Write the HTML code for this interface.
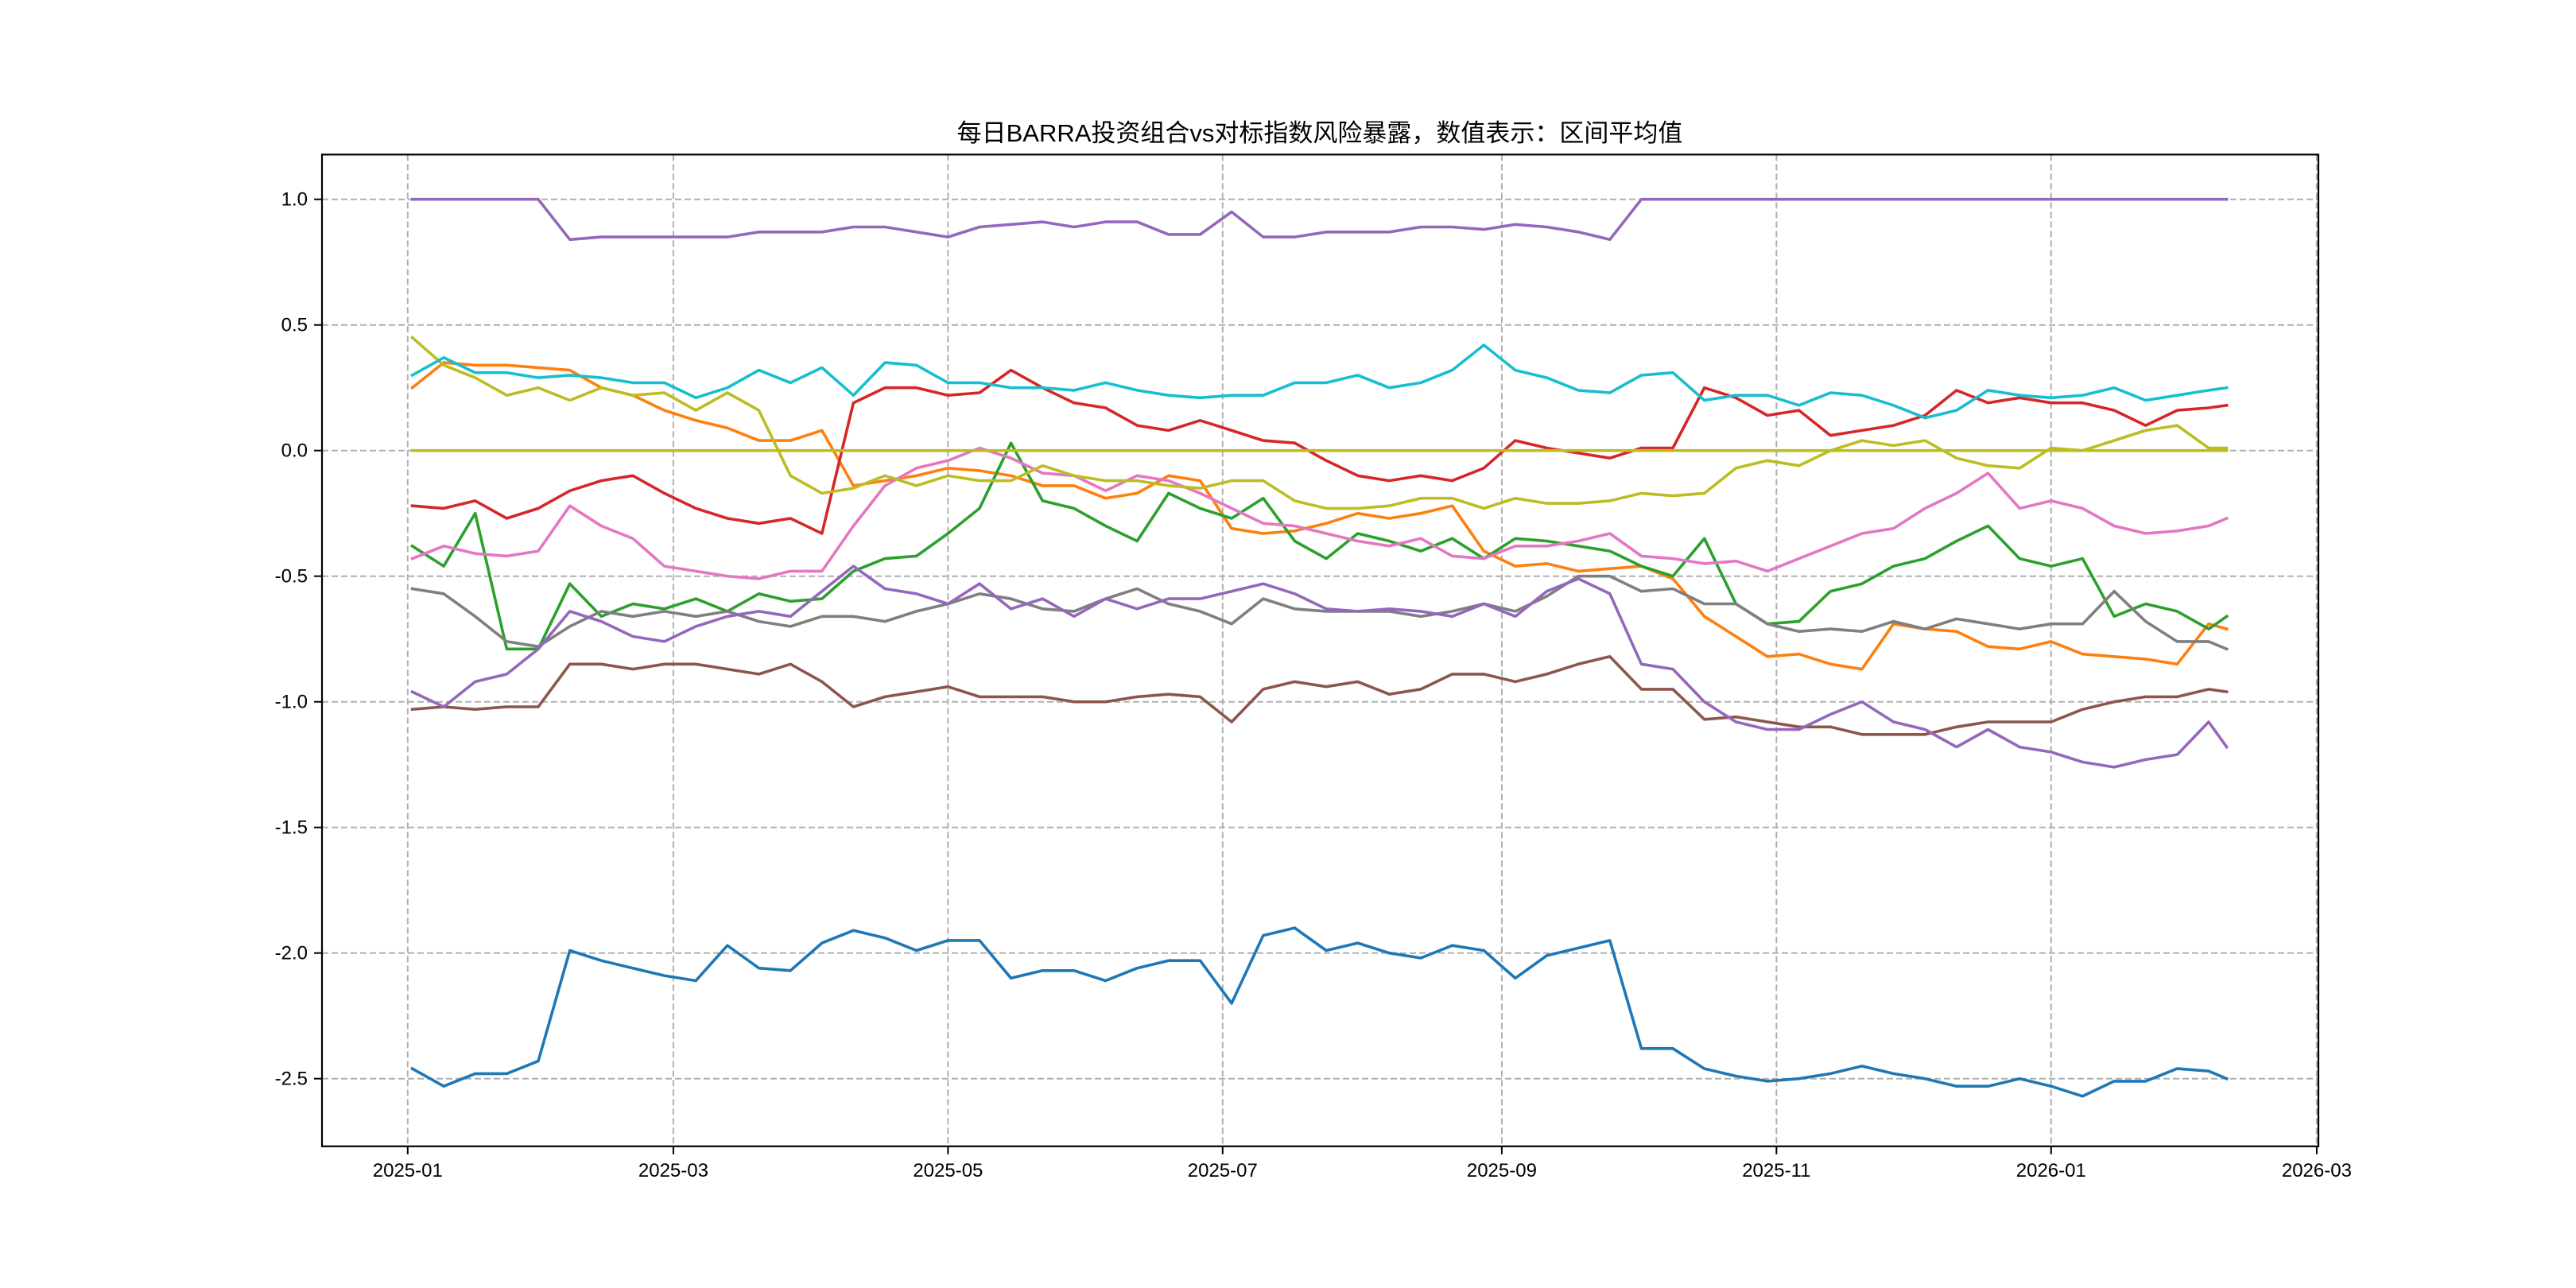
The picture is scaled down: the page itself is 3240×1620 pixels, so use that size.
<!DOCTYPE html>
<html><head><meta charset="utf-8"><style>
html,body{margin:0;padding:0;background:#fff;}
svg{display:block;}
text{font-family:"Liberation Sans","Noto Sans CJK SC",sans-serif;fill:#000;}
</style></head><body>
<svg id="chart" width="3240" height="1620" viewBox="0 0 3240 1620" xmlns="http://www.w3.org/2000/svg">
<rect x="0" y="0" width="3240" height="1620" fill="#fff"/>
<text x="1660" y="178" font-size="31" text-anchor="middle">每日BARRA投资组合vs对标指数风险暴露，数值表示：区间平均值</text>
<g id="grid"></g>
<g id="series"></g>
<g id="axes"></g>
</svg>
<script>
const yTicks = [1.0, 0.5, 0.0, -0.5, -1.0, -1.5, -2.0, -2.5];
const yTickLabels = ["1.0", "0.5", "0.0", "-0.5", "-1.0", "-1.5", "-2.0", "-2.5"];
const xTickDays = [0, 59, 120, 181, 243, 304, 365, 424];
const xTickLabels = ["2025-01", "2025-03", "2025-05", "2025-07", "2025-09", "2025-11", "2026-01", "2026-03"];
const sampleDays = [1,8,15,22,29,36,43,50,57,64,71,78,85,92,99,106,113,120,127,134,141,148,155,162,169,176,183,190,197,204,211,218,225,232,239,246,253,260,267,274,281,288,295,302,309,316,323,330,337,344,351,358,365,372,379,386,393,400,404];
const seriesBlue = [-2.46,-2.53,-2.48,-2.48,-2.43,-1.99,-2.03,-2.06,-2.09,-2.11,-1.97,-2.06,-2.07,-1.96,-1.91,-1.94,-1.99,-1.95,-1.95,-2.10,-2.07,-2.07,-2.11,-2.06,-2.03,-2.03,-2.2,-1.93,-1.90,-1.99,-1.96,-2.0,-2.02,-1.97,-1.99,-2.10,-2.01,-1.98,-1.95,-2.38,-2.38,-2.46,-2.49,-2.51,-2.50,-2.48,-2.45,-2.48,-2.50,-2.53,-2.53,-2.50,-2.53,-2.57,-2.51,-2.51,-2.46,-2.47,-2.50];
const seriesOrange = [0.25,0.35,0.34,0.34,0.33,0.32,0.25,0.22,0.16,0.12,0.09,0.04,0.04,0.08,-0.14,-0.12,-0.10,-0.07,-0.08,-0.10,-0.14,-0.14,-0.19,-0.17,-0.10,-0.12,-0.31,-0.33,-0.32,-0.29,-0.25,-0.27,-0.25,-0.22,-0.40,-0.46,-0.45,-0.48,-0.47,-0.46,-0.51,-0.66,-0.74,-0.82,-0.81,-0.85,-0.87,-0.69,-0.71,-0.72,-0.78,-0.79,-0.76,-0.81,-0.82,-0.83,-0.85,-0.69,-0.71];
const seriesGreen = [-0.38,-0.46,-0.25,-0.79,-0.79,-0.53,-0.66,-0.61,-0.63,-0.59,-0.64,-0.57,-0.60,-0.59,-0.48,-0.43,-0.42,-0.33,-0.23,0.03,-0.20,-0.23,-0.30,-0.36,-0.17,-0.23,-0.27,-0.19,-0.36,-0.43,-0.33,-0.36,-0.40,-0.35,-0.43,-0.35,-0.36,-0.38,-0.40,-0.46,-0.50,-0.35,-0.61,-0.69,-0.68,-0.56,-0.53,-0.46,-0.43,-0.36,-0.30,-0.43,-0.46,-0.43,-0.66,-0.61,-0.64,-0.71,-0.66];
const seriesRed = [-0.22,-0.23,-0.20,-0.27,-0.23,-0.16,-0.12,-0.10,-0.17,-0.23,-0.27,-0.29,-0.27,-0.33,0.19,0.25,0.25,0.22,0.23,0.32,0.25,0.19,0.17,0.10,0.08,0.12,0.08,0.04,0.03,-0.04,-0.10,-0.12,-0.10,-0.12,-0.07,0.04,0.01,-0.01,-0.03,0.01,0.01,0.25,0.21,0.14,0.16,0.06,0.08,0.10,0.14,0.24,0.19,0.21,0.19,0.19,0.16,0.10,0.16,0.17,0.18];
const seriesPurpleTop = [1.0,1.0,1.0,1.0,1.0,0.84,0.85,0.85,0.85,0.85,0.85,0.87,0.87,0.87,0.89,0.89,0.87,0.85,0.89,0.90,0.91,0.89,0.91,0.91,0.86,0.86,0.95,0.85,0.85,0.87,0.87,0.87,0.89,0.89,0.88,0.90,0.89,0.87,0.84,1.0,1.0,1.0,1.0,1.0,1.0,1.0,1.0,1.0,1.0,1.0,1.0,1.0,1.0,1.0,1.0,1.0,1.0,1.0,1.0];
const seriesPurpleLow = [-0.96,-1.02,-0.92,-0.89,-0.79,-0.64,-0.68,-0.74,-0.76,-0.70,-0.66,-0.64,-0.66,-0.56,-0.46,-0.55,-0.57,-0.61,-0.53,-0.63,-0.59,-0.66,-0.59,-0.63,-0.59,-0.59,-0.56,-0.53,-0.57,-0.63,-0.64,-0.63,-0.64,-0.66,-0.61,-0.66,-0.56,-0.51,-0.57,-0.85,-0.87,-1.0,-1.08,-1.11,-1.11,-1.05,-1.00,-1.08,-1.11,-1.18,-1.11,-1.18,-1.20,-1.24,-1.26,-1.23,-1.21,-1.08,-1.18];
const seriesBrown = [-1.03,-1.02,-1.03,-1.02,-1.02,-0.85,-0.85,-0.87,-0.85,-0.85,-0.87,-0.89,-0.85,-0.92,-1.02,-0.98,-0.96,-0.94,-0.98,-0.98,-0.98,-1.00,-1.00,-0.98,-0.97,-0.98,-1.08,-0.95,-0.92,-0.94,-0.92,-0.97,-0.95,-0.89,-0.89,-0.92,-0.89,-0.85,-0.82,-0.95,-0.95,-1.07,-1.06,-1.08,-1.10,-1.10,-1.13,-1.13,-1.13,-1.10,-1.08,-1.08,-1.08,-1.03,-1.00,-0.98,-0.98,-0.95,-0.96];
const seriesPink = [-0.43,-0.38,-0.41,-0.42,-0.40,-0.22,-0.30,-0.35,-0.46,-0.48,-0.50,-0.51,-0.48,-0.48,-0.30,-0.14,-0.07,-0.04,0.01,-0.03,-0.09,-0.10,-0.16,-0.10,-0.12,-0.17,-0.23,-0.29,-0.30,-0.33,-0.36,-0.38,-0.35,-0.42,-0.43,-0.38,-0.38,-0.36,-0.33,-0.42,-0.43,-0.45,-0.44,-0.48,-0.43,-0.38,-0.33,-0.31,-0.23,-0.17,-0.09,-0.23,-0.20,-0.23,-0.30,-0.33,-0.32,-0.30,-0.27];
const seriesGray = [-0.55,-0.57,-0.66,-0.76,-0.78,-0.70,-0.64,-0.66,-0.64,-0.66,-0.64,-0.68,-0.70,-0.66,-0.66,-0.68,-0.64,-0.61,-0.57,-0.59,-0.63,-0.64,-0.59,-0.55,-0.61,-0.64,-0.69,-0.59,-0.63,-0.64,-0.64,-0.64,-0.66,-0.64,-0.61,-0.64,-0.58,-0.50,-0.50,-0.56,-0.55,-0.61,-0.61,-0.69,-0.72,-0.71,-0.72,-0.68,-0.71,-0.67,-0.69,-0.71,-0.69,-0.69,-0.56,-0.68,-0.76,-0.76,-0.79];
const seriesOliveFlat = [0,0,0,0,0,0,0,0,0,0,0,0,0,0,0,0,0,0,0,0,0,0,0,0,0,0,0,0,0,0,0,0,0,0,0,0,0,0,0,0,0,0,0,0,0,0,0,0,0,0,0,0,0,0,0,0,0,0,0];
const seriesOlive = [0.45,0.34,0.29,0.22,0.25,0.20,0.25,0.22,0.23,0.16,0.23,0.16,-0.10,-0.17,-0.15,-0.10,-0.14,-0.10,-0.12,-0.12,-0.06,-0.10,-0.12,-0.12,-0.14,-0.15,-0.12,-0.12,-0.20,-0.23,-0.23,-0.22,-0.19,-0.19,-0.23,-0.19,-0.21,-0.21,-0.20,-0.17,-0.18,-0.17,-0.07,-0.04,-0.06,0.0,0.04,0.02,0.04,-0.03,-0.06,-0.07,0.01,0.0,0.04,0.08,0.10,0.01,0.01];
const seriesCyan = [0.30,0.37,0.31,0.31,0.29,0.30,0.29,0.27,0.27,0.21,0.25,0.32,0.27,0.33,0.22,0.35,0.34,0.27,0.27,0.25,0.25,0.24,0.27,0.24,0.22,0.21,0.22,0.22,0.27,0.27,0.30,0.25,0.27,0.32,0.42,0.32,0.29,0.24,0.23,0.30,0.31,0.20,0.22,0.22,0.18,0.23,0.22,0.18,0.13,0.16,0.24,0.22,0.21,0.22,0.25,0.20,0.22,0.24,0.25];

const L = 405, R = 2916, T = 194.4, B = 1441.8;
const X0 = 512.8, PXDAY = 5.663;
const Y1 = 250.7, PXUNIT = 316;
function xScale(day){ return X0 + day * PXDAY; }
function yScale(v){ return Y1 + (1 - v) * PXUNIT; }
const NS = "http://www.w3.org/2000/svg";
function mk(tag, attrs){ const e = document.createElementNS(NS, tag); for (const k in attrs) e.setAttribute(k, attrs[k]); return e; }

const grid = document.getElementById('grid');
const axes = document.getElementById('axes');
const series = document.getElementById('series');

xTickDays.forEach((d, i) => {
  const x = xScale(d);
  const g = mk('line', {x1:x, x2:x, y1:T, y2:B, stroke:'#b0b0b0', 'stroke-width':2, 'stroke-dasharray':'8,4'});
  
  
  grid.appendChild(g);
  const t = mk('line', {x1:x, x2:x, y1:B, y2:B+10, stroke:'#000', 'stroke-width':2});
  
  
  axes.appendChild(t);
  const lb = mk('text', {x:x, y:B+38, 'font-size':24, 'text-anchor':'middle'});
  lb.textContent = xTickLabels[i];
  
  
  axes.appendChild(lb);
});
yTicks.forEach((v, i) => {
  const y = yScale(v);
  const g = mk('line', {x1:L, x2:R, y1:y, y2:y, stroke:'#b0b0b0', 'stroke-width':2, 'stroke-dasharray':'8,4'});
  
  
  grid.appendChild(g);
  const t = mk('line', {x1:L-10, x2:L, y1:y, y2:y, stroke:'#000', 'stroke-width':2});
  
  
  axes.appendChild(t);
  const lb = mk('text', {x:L-18, y:y+8, 'font-size':24, 'text-anchor':'end'});
  lb.textContent = yTickLabels[i];
  
  
  axes.appendChild(lb);
});
const frame = mk('rect', {x:L, y:T, width:R-L, height:B-T, fill:'none', stroke:'#000', 'stroke-width':2.2});


axes.appendChild(frame);

const allSeries = [
  [seriesBlue, '#1f77b4', 'series-blue'],
  [seriesOrange, '#ff7f0e', 'series-orange'],
  [seriesGreen, '#2ca02c', 'series-green'],
  [seriesRed, '#d62728', 'series-red'],
  [seriesPurpleTop, '#9467bd', 'series-purple-top'],
  [seriesBrown, '#8c564b', 'series-brown'],
  [seriesPink, '#e377c2', 'series-pink'],
  [seriesGray, '#7f7f7f', 'series-gray'],
  [seriesOlive, '#bcbd22', 'series-olive'],
  [seriesCyan, '#17becf', 'series-cyan'],
  [seriesPurpleLow, '#9467bd', 'series-purple-low'],
  [seriesOliveFlat, '#bcbd22', 'series-olive-flat']
];
allSeries.forEach(s => {
  const vals = s[0];
  const pts = vals.map((v, i) => xScale(sampleDays[Math.min(i, sampleDays.length-1)]).toFixed(1) + ',' + yScale(v).toFixed(1)).join(' ');
  const p = mk('polyline', {points:pts, fill:'none', stroke:s[1], 'stroke-width':3.6, 'stroke-linejoin':'round', 'stroke-linecap':'square'});
  
  
  series.appendChild(p);
});
</script>
</body></html>
